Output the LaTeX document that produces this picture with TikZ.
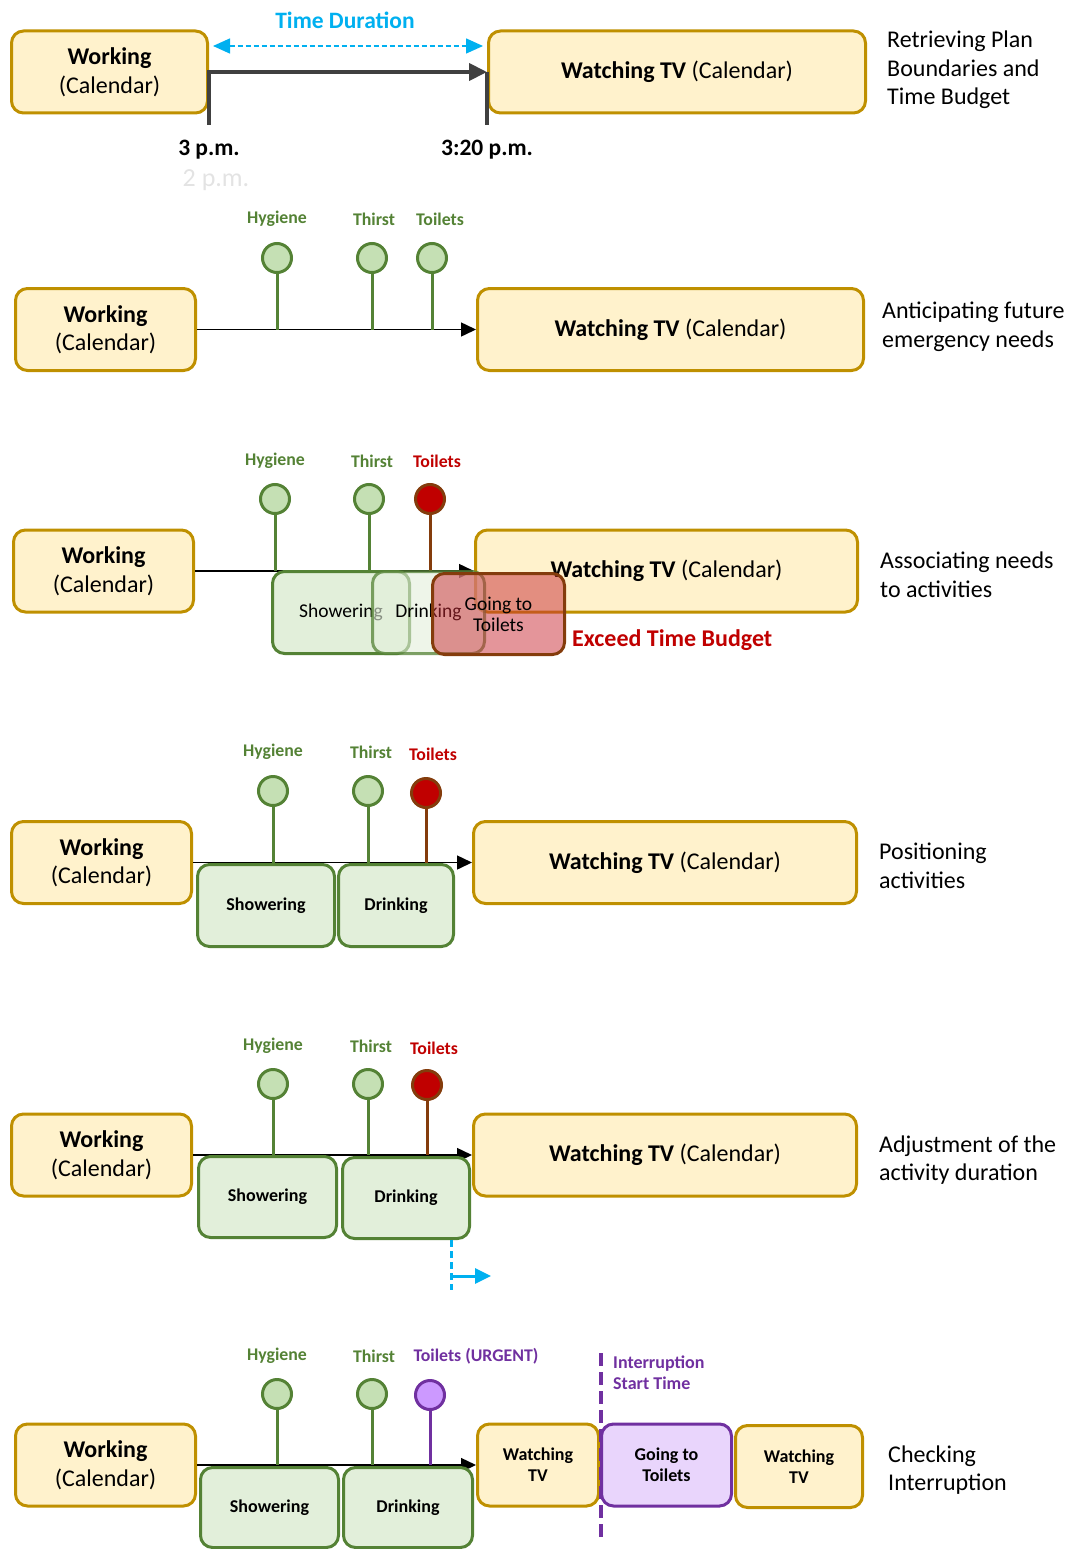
\documentclass[tikz,border=0pt]{standalone}
\usepackage{fontspec}
\setmainfont{Carlito}
\usetikzlibrary{arrows.meta}
\definecolor{calfill}{HTML}{FFF2CC}
\definecolor{calline}{HTML}{BF9000}
\definecolor{actfill}{HTML}{E2EFDA}
\definecolor{actline}{HTML}{548235}
\definecolor{needfill}{HTML}{C5E0B4}
\definecolor{badfill}{HTML}{C00000}
\definecolor{badline}{HTML}{843C0C}
\definecolor{urgfill}{HTML}{CC99FF}
\definecolor{urgline}{HTML}{7030A0}
\definecolor{urgbox}{HTML}{E9D5FC}
\definecolor{durcol}{HTML}{00B0F0}
\definecolor{darkline}{HTML}{404040}
\definecolor{overfill}{HTML}{C92B35}
\newcommand{\bigtxt}{\fontsize{24}{28.5}\selectfont}
\newcommand{\acttxt}{\fontsize{18}{21}\selectfont}
\newcommand{\needtxt}{\fontsize{17.8}{20}\selectfont\bfseries}
\newcommand{\timetxt}{\fontsize{23.5}{26}\selectfont\bfseries}
\tikzset{
  calbox/.style={draw=calline, fill=calfill, line width=3pt, rounded corners=12pt, align=center, font=\bigtxt, inner sep=2pt},
  actbox/.style={draw=actline, fill=actfill, line width=3pt, rounded corners=12pt, align=center, font=\acttxt\bfseries, inner sep=2pt},
  needok/.style={circle, draw=actline, fill=needfill, line width=3pt, minimum size=29pt, inner sep=0pt},
  needbad/.style={needok, draw=badline, fill=badfill},
  needurg/.style={needok, draw=urgline, fill=urgfill},
  stemok/.style={draw=actline, line width=3pt},
  stembad/.style={draw=badline, line width=3pt},
  stemurg/.style={draw=urgline, line width=3pt},
  needlbl/.style={font=\needtxt, text=actline, inner sep=0pt},
  timeline/.style={line width=1.5pt, -{Triangle[length=15pt,width=14pt]}},
  note/.style={anchor=west, align=left, font=\bigtxt, inner sep=0pt},
}
\begin{document}
\begin{tikzpicture}[x=1pt,y=1pt,yscale=-1]
\useasboundingbox (0,0) rectangle (1068,1549);

% retrieving the plan
\node[calbox, minimum width=196, minimum height=82] (work1) at (109.5,72) {\textbf{Working}\\(Calendar)};
\node[calbox, minimum width=377, minimum height=82] (tv1) at (677,72) {\textbf{Watching TV} (Calendar)};
\coordinate (t1a) at (209,125);
\coordinate (t1b) at (487,125);
\coordinate (d1a) at (213,46);
\coordinate (d1b) at (483,46);
\draw[darkline, line width=4pt, -{Triangle[length=18pt,width=17pt]}] (t1a) -- (work1.east) -- (tv1.west);
\draw[darkline, line width=4pt] (tv1.west) -- (t1b);
\draw[durcol, line width=1.5pt, dash pattern={on 5pt off 3pt}, {Triangle[length=17pt,width=15pt]}-{Triangle[length=17pt,width=15pt]}] (d1a) -- (d1b);
\node[font=\timetxt, text=durcol] (dur1) at (345,20) {Time Duration};
\node[font=\timetxt] (start1) at (209,150) {3 p.m.};
\node[font=\timetxt] (end1) at (487,150) {3:20 p.m.};
\node[font=\fontsize{26}{28}\selectfont, text=gray!22] (ghost1) at (216,180) {2 p.m.};
\node[note] (note1) at (887,70) {Retrieving Plan\\Boundaries and\\Time Budget};

% anticipating needs
\node[calbox, minimum width=180, minimum height=82] (work2) at (105.5,329.5) {\textbf{Working}\\(Calendar)};
\node[calbox, minimum width=386, minimum height=82] (tv2) at (670.5,329.5) {\textbf{Watching TV} (Calendar)};
\draw[timeline] (work2.east) -- (tv2.west);
\node[needok] (hyg2) at (277,258) {};
\node[needok] (thi2) at (372,258) {};
\node[needok] (toi2) at (432,258) {};
\draw[stemok] (hyg2.south) -- (hyg2.south |- work2.east);
\draw[stemok] (thi2.south) -- (thi2.south |- work2.east);
\draw[stemok] (toi2.south) -- (toi2.south |- work2.east);
\node[needlbl] (hyg2t) at (277,219) {Hygiene};
\node[needlbl] (thi2t) at (374,219) {Thirst};
\node[needlbl] (toi2t) at (440,219) {Toilets};
\node[note] (note2) at (882,327) {Anticipating future\\emergency needs};

% associating needs to activities
\node[calbox, minimum width=180, minimum height=82] (work3) at (103.5,571) {\textbf{Working}\\(Calendar)};
\node[calbox, minimum width=382, minimum height=82] (tv3) at (666.5,571) {\textbf{Watching TV} (Calendar)};
\draw[timeline] (work3.east) -- (tv3.west);
\node[needok] (hyg3) at (275,499) {};
\node[needok] (thi3) at (369,499) {};
\node[needbad] (toi3) at (430,499) {};
\draw[stemok] (hyg3.south) -- (hyg3.south |- work3.east);
\draw[stemok] (thi3.south) -- (thi3.south |- work3.east);
\draw[stembad] (toi3.south) -- (toi3.south |- work3.east);
\node[needlbl] (hyg3t) at (275,461) {Hygiene};
\node[needlbl] (thi3t) at (372,461) {Thirst};
\node[needlbl, text=badfill] (toi3t) at (437,461) {Toilets};
\node[actbox, font=\fontsize{19.5}{21}\selectfont, minimum width=137, minimum height=82] (show3) at (341,612.5) {Showering};
\node[actbox, font=\fontsize{19.5}{21}\selectfont, fill opacity=0.6, draw opacity=0.75, text opacity=1, minimum width=112, minimum height=82] (drink3) at (428.5,612.5) {Drinking};
\node[actbox, font=\fontsize{19.5}{21}\selectfont, draw=badline, fill=overfill, fill opacity=0.5, text opacity=1, minimum width=132, minimum height=81] (goto3) at (498.5,614) {Going to\\Toilets};
\node[font=\fontsize{24}{26}\selectfont\bfseries, text=badfill, anchor=west, inner sep=0pt] (over3) at (572,640) {Exceed Time Budget};
\node[note] (note3) at (880,575) {Associating needs\\to activities};

% positioning activities
\node[calbox, minimum width=180, minimum height=82] (work4) at (101.5,862.5) {\textbf{Working}\\(Calendar)};
\node[calbox, minimum width=383, minimum height=82] (tv4) at (665,862.5) {\textbf{Watching TV} (Calendar)};
\draw[timeline] (work4.east) -- (tv4.west);
\node[needok] (hyg4) at (273,791) {};
\node[needok] (thi4) at (368,791) {};
\node[needbad] (toi4) at (426,793) {};
\draw[stemok] (hyg4.south) -- (hyg4.south |- work4.east);
\draw[stemok] (thi4.south) -- (thi4.south |- work4.east);
\draw[stembad] (toi4.south) -- (toi4.south |- work4.east);
\node[needlbl] (hyg4t) at (273,752) {Hygiene};
\node[needlbl] (thi4t) at (371,752) {Thirst};
\node[needlbl, text=badfill] (toi4t) at (433,754) {Toilets};
\node[actbox, minimum width=137, minimum height=82] (show4) at (266,905.5) {Showering};
\node[actbox, minimum width=115, minimum height=82] (drink4) at (396,905.5) {Drinking};
\node[note] (note4) at (879,866) {Positioning\\activities};

% adjusting the duration
\node[calbox, minimum width=180, minimum height=82] (work5) at (101.5,1155) {\textbf{Working}\\(Calendar)};
\node[calbox, minimum width=383, minimum height=82] (tv5) at (665,1155) {\textbf{Watching TV} (Calendar)};
\draw[timeline] (work5.east) -- (tv5.west);
\node[needok] (hyg5) at (273,1084) {};
\node[needok] (thi5) at (368,1084) {};
\node[needbad] (toi5) at (427,1085) {};
\draw[stemok] (hyg5.south) -- (hyg5.south |- work5.east);
\draw[stemok] (thi5.south) -- (thi5.south |- work5.east);
\draw[stembad] (toi5.south) -- (toi5.south |- work5.east);
\node[needlbl] (hyg5t) at (273,1046) {Hygiene};
\node[needlbl] (thi5t) at (371,1046) {Thirst};
\node[needlbl, text=badfill] (toi5t) at (434,1048) {Toilets};
\node[actbox, minimum width=138, minimum height=81] (show5) at (267.5,1197) {Showering};
\node[actbox, minimum width=127, minimum height=81] (drink5) at (406,1198) {Drinking};
\coordinate (ext5) at (451,1290);
\coordinate (ext5a) at (451,1276);
\coordinate (ext5b) at (491,1276);
\draw[durcol, line width=3pt, dash pattern={on 7pt off 4pt}] (ext5 |- drink5.south) -- (ext5);
\draw[durcol, line width=3pt, -{Triangle[length=16pt,width=15pt]}] (ext5a) -- (ext5b);
\node[note] (note5) at (879,1160) {Adjustment of the\\activity duration};

% checking the interruption
\node[calbox, minimum width=180, minimum height=82] (work6) at (105.5,1465) {\textbf{Working}\\(Calendar)};
\node[calbox, font=\acttxt\bfseries, minimum width=121, minimum height=82] (tv6a) at (538,1465) {Watching\\TV};
\node[calbox, font=\acttxt\bfseries, draw=urgline, fill=urgbox, minimum width=130, minimum height=82] (toil6) at (666.5,1465) {Going to\\Toilets};
\node[calbox, font=\acttxt\bfseries, minimum width=127, minimum height=82] (tv6b) at (799,1466.5) {Watching\\TV};
\draw[timeline] (work6.east) -- (tv6a.west);
\node[needok] (hyg6) at (277,1394) {};
\node[needok] (thi6) at (372,1394) {};
\node[needurg] (toi6) at (430,1395) {};
\draw[stemok] (hyg6.south) -- (hyg6.south |- work6.east);
\draw[stemok] (thi6.south) -- (thi6.south |- work6.east);
\draw[stemurg] (toi6.south) -- (toi6.south |- work6.east);
\node[needlbl] (hyg6t) at (277,1356) {Hygiene};
\node[needlbl] (thi6t) at (374,1356) {Thirst};
\node[needlbl, text=urgline] (toi6t) at (476,1356) {Toilets (URGENT)};
\node[actbox, minimum width=138, minimum height=80] (show6) at (269.5,1507.5) {Showering};
\node[actbox, minimum width=129, minimum height=80] (drink6) at (408,1507.5) {Drinking};
\coordinate (int6a) at (601,1353);
\coordinate (int6b) at (601,1541);
\draw[urgline, line width=4pt, dash pattern={on 13pt off 6pt}] (int6a) -- (int6b);
\node[needlbl, text=urgline, anchor=west, align=left, font=\fontsize{18}{21}\selectfont\bfseries] (int6t) at (613,1373) {Interruption\\Start Time};
\node[note] (note6) at (888,1470) {Checking\\Interruption};
\end{tikzpicture}
\end{document}
